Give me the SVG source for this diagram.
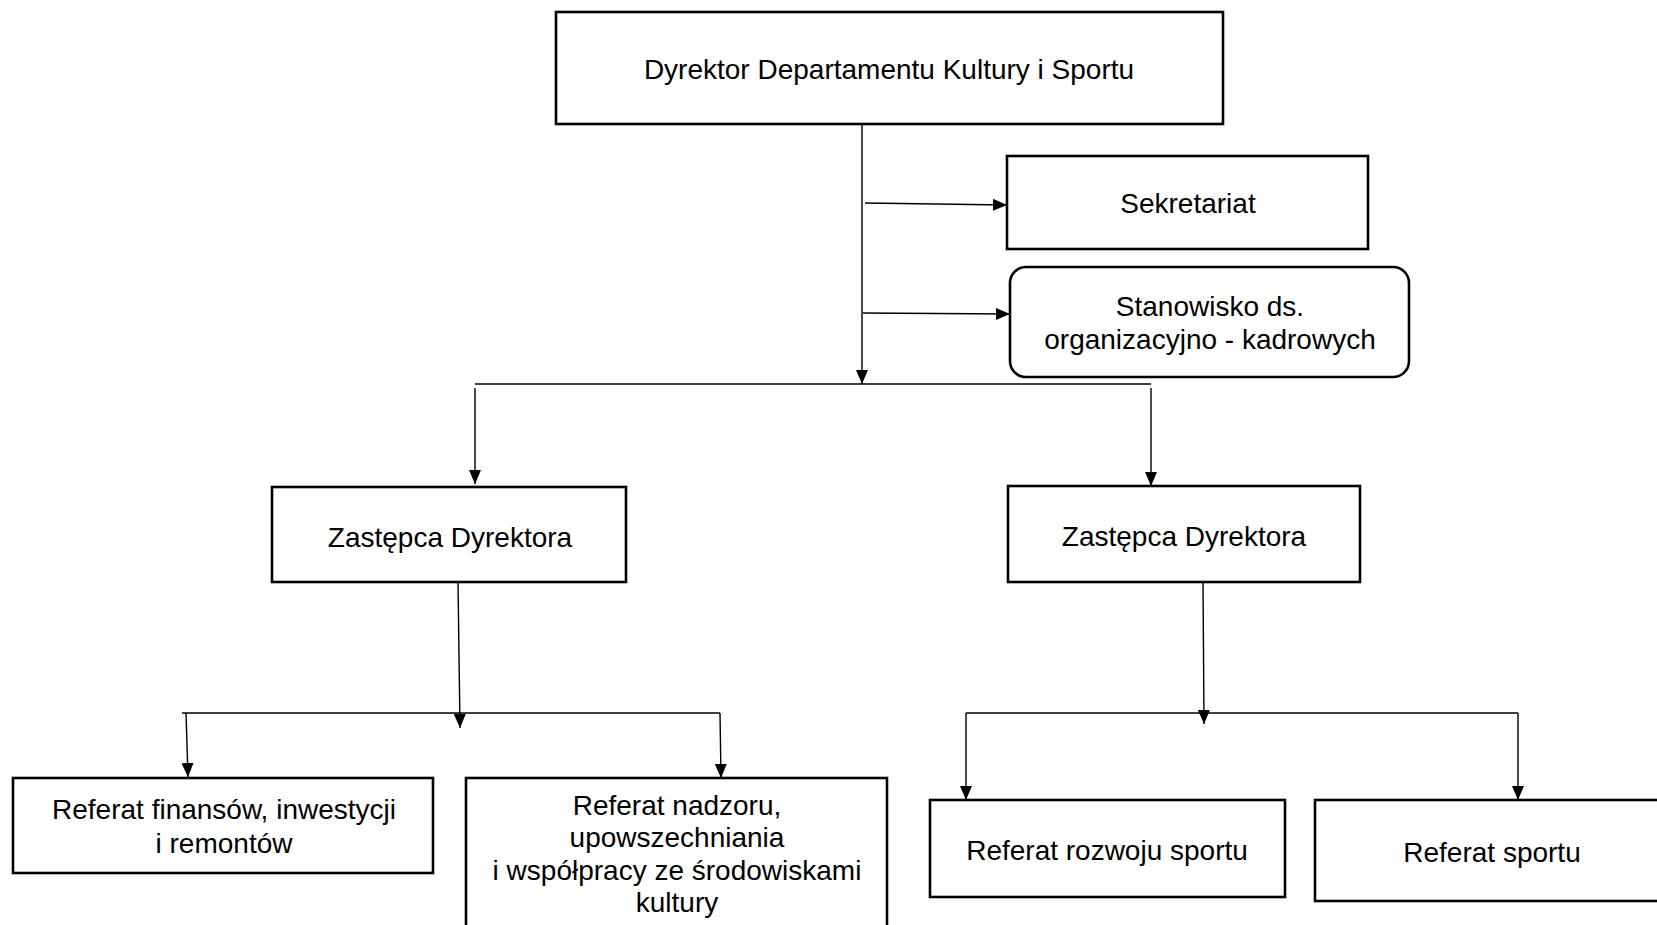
<svg xmlns="http://www.w3.org/2000/svg" width="1657" height="925" viewBox="0 0 1657 925">
<style>
.box{fill:#fff;stroke:#000;stroke-width:2.6}
.t{font-family:"Liberation Sans",Arial,sans-serif;font-size:28px;fill:#000;text-anchor:middle}
.c{fill:none;stroke:#000;stroke-width:1.4}
</style>
<defs>
<marker id="ah" markerWidth="14" markerHeight="12" refX="14" refY="6" orient="auto" markerUnits="userSpaceOnUse"><path d="M0,0 L14,6 L0,12 z" fill="#000"/></marker>
</defs>
<rect width="1657" height="925" fill="#fff"/>
<g id="connectors">
<line class="c" x1="862" y1="124" x2="862" y2="384" marker-end="url(#ah)"/>
<line class="c" x1="865" y1="203" x2="1007" y2="205" marker-end="url(#ah)"/>
<line class="c" x1="863" y1="313" x2="1010" y2="314" marker-end="url(#ah)"/>
<line class="c" x1="475" y1="384" x2="1151" y2="384"/>
<line class="c" x1="475" y1="388" x2="475" y2="484" marker-end="url(#ah)"/>
<line class="c" x1="1151" y1="388" x2="1151" y2="486" marker-end="url(#ah)"/>
<line class="c" x1="458" y1="582" x2="460" y2="728" marker-end="url(#ah)"/>
<line class="c" x1="182" y1="713" x2="720" y2="713"/>
<line class="c" x1="186" y1="713" x2="188" y2="777" marker-end="url(#ah)"/>
<line class="c" x1="720" y1="713" x2="721" y2="778" marker-end="url(#ah)"/>
<line class="c" x1="1203" y1="582" x2="1204" y2="724" marker-end="url(#ah)"/>
<line class="c" x1="966" y1="713" x2="1518" y2="713"/>
<line class="c" x1="966" y1="713" x2="966" y2="800" marker-end="url(#ah)"/>
<line class="c" x1="1518" y1="713" x2="1518" y2="800" marker-end="url(#ah)"/>
</g>
<g id="dyrektor">
<rect class="box" x="556" y="12" width="667" height="112"/>
<text class="t" x="889" y="79">Dyrektor Departamentu Kultury i Sportu</text>
</g>
<g id="sekretariat">
<rect class="box" x="1007" y="156" width="361" height="93"/>
<text class="t" x="1188" y="213">Sekretariat</text>
</g>
<g id="stanowisko">
<rect class="box" x="1010" y="267" width="399" height="110" rx="16" ry="16"/>
<text class="t" x="1210" y="316">Stanowisko ds.</text>
<text class="t" x="1210" y="349">organizacyjno - kadrowych</text>
</g>
<g id="zastepca1">
<rect class="box" x="272" y="487" width="354" height="95"/>
<text class="t" x="450" y="547">Zastępca Dyrektora</text>
</g>
<g id="zastepca2">
<rect class="box" x="1008" y="486" width="352" height="96"/>
<text class="t" x="1184" y="546">Zastępca Dyrektora</text>
</g>
<g id="finansow">
<rect class="box" x="13" y="778" width="420" height="95"/>
<text class="t" x="224" y="819">Referat finansów, inwestycji</text>
<text class="t" x="224" y="853">i remontów</text>
</g>
<g id="nadzoru">
<rect class="box" x="466" y="778" width="421" height="160"/>
<text class="t" x="677" y="815">Referat nadzoru,</text>
<text class="t" x="677" y="847">upowszechniania</text>
<text class="t" x="677" y="880">i współpracy ze środowiskami</text>
<text class="t" x="677" y="912">kultury</text>
</g>
<g id="rozwoju">
<rect class="box" x="930" y="800" width="355" height="97"/>
<text class="t" x="1107" y="860">Referat rozwoju sportu</text>
</g>
<g id="sportu">
<rect class="box" x="1315" y="800" width="360" height="101"/>
<text class="t" x="1492" y="862">Referat sportu</text>
</g>
</svg>
